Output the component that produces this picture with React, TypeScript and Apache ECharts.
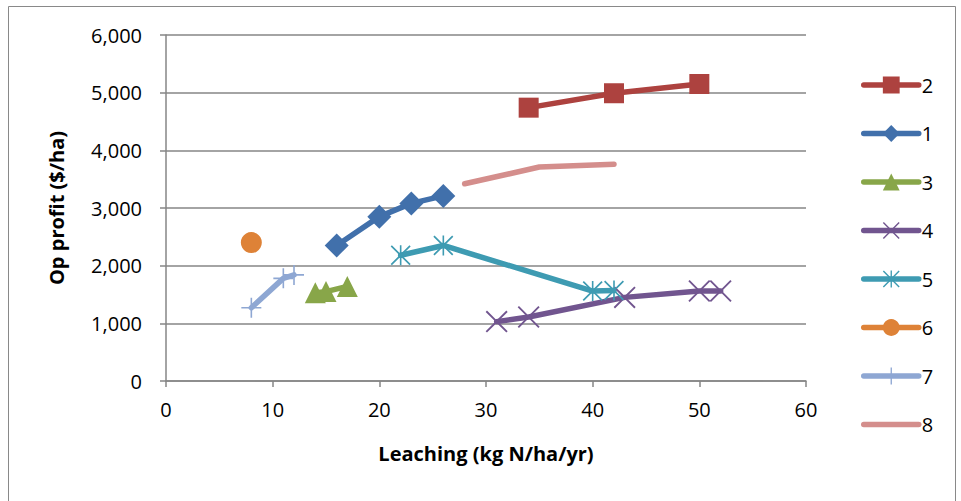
import React, { useEffect, useRef } from "react";
import * as echarts from "echarts";

const xTicks = [0, 10, 20, 30, 40, 50, 60];
const yTicks = [0, 1000, 2000, 3000, 4000, 5000, 6000];

const s2x = [34, 42, 50];
const s2y = [4740, 4990, 5150];
const s1x = [16, 20, 23, 26];
const s1y = [2350, 2850, 3080, 3210];
const s3x = [14, 15, 17];
const s3y = [1530, 1550, 1640];
const s4x = [31, 34, 43, 50, 52];
const s4y = [1030, 1110, 1450, 1560, 1560];
const s5x = [22, 26, 40, 42];
const s5y = [2180, 2350, 1560, 1570];
const s6x = [8];
const s6y = [2400];
const s7x = [8, 11, 12];
const s7y = [1270, 1780, 1840];
const s8x = [28, 35, 42];
const s8y = [3420, 3710, 3760];

const legendNames = ["2", "1", "3", "4", "5", "6", "7", "8"];

const FONT = "Open Sans";

const X_PATH =
  "path://M0,6 L6,0 L50,44 L94,0 L100,6 L56,50 L100,94 L94,100 L50,56 L6,100 L0,94 L44,50 Z";
const STAR_PATH =
  "path://M0,6 L6,0 L50,44 L94,0 L100,6 L56,50 L100,94 L94,100 L50,56 L6,100 L0,94 L44,50 Z M46,0 L54,0 L54,100 L46,100 Z";
const PLUS_PATH =
  "path://M46,0 L54,0 L54,46 L100,46 L100,54 L54,54 L54,100 L46,100 L46,54 L0,54 L0,46 L46,46 Z";

function pairs(xs: number[], ys: number[]) {
  return xs.map((x, i) => [x, ys[i]]);
}

export default function App() {
  const ref = useRef<HTMLDivElement>(null);
  useEffect(() => {
    if (!ref.current) return;
    const chart = echarts.init(ref.current, null, { renderer: "svg" });
    const mk = (
      name: string,
      xs: number[],
      ys: number[],
      color: string,
      symbol: string,
      size: number,
      show = true,
      lw = 5.5
    ) => ({
      name,
      type: "line",
      data: pairs(xs, ys),
      symbol,
      symbolSize: size,
      showSymbol: show,
      lineStyle: { color, width: lw, cap: "round", join: "round" },
      itemStyle: { color, borderWidth: 0 },
      emphasis: { disabled: true },
    });
    chart.setOption({
      animation: false,
      textStyle: { fontFamily: FONT },
      graphic: [
        {
          type: "rect",
          shape: { x: 8.5, y: 6.5, width: 947, height: 500 },
          style: { fill: "none", stroke: "#898989", lineWidth: 1 },
          silent: true,
        },
      ],
      grid: { left: 166, right: 155, top: 35, bottom: 120, containLabel: false },
      xAxis: {
        type: "value",
        min: xTicks[0],
        max: xTicks[xTicks.length - 1],
        interval: 10,
        name: "Leaching (kg N/ha/yr)",
        nameLocation: "middle",
        nameGap: 62,
        nameTextStyle: { fontFamily: FONT, fontSize: 20, fontWeight: "bold", color: "#000" },
        axisLine: { show: true, lineStyle: { color: "#868686", width: 1.5 } },
        axisTick: { show: true, length: 6, lineStyle: { color: "#868686", width: 1.5 } },
        axisLabel: { color: "#000", fontSize: 20, fontFamily: FONT, margin: 18 },
        splitLine: { show: false },
      },
      yAxis: {
        type: "value",
        min: yTicks[0],
        max: yTicks[yTicks.length - 1],
        interval: 1000,
        name: "Op profit ($/ha)",
        nameLocation: "middle",
        nameGap: 100,
        nameRotate: 90,
        nameTextStyle: { fontFamily: FONT, fontSize: 20, fontWeight: "bold", color: "#000" },
        axisLine: { show: true, lineStyle: { color: "#868686", width: 1.5 } },
        axisTick: { show: true, length: 6, lineStyle: { color: "#868686", width: 1.5 } },
        axisLabel: {
          color: "#000",
          fontSize: 20,
          fontFamily: FONT,
          margin: 24,
          formatter: (v: number) => v.toLocaleString("en-US"),
        },
        splitLine: { show: true, lineStyle: { color: "#868686", width: 1.5 } },
      },
      legend: {
        orient: "vertical",
        left: 856,
        top: 70,
        itemWidth: 55,
        itemHeight: 21,
        itemGap: 28.5,
        lineStyle: { width: 5.5, cap: "round" },
        textStyle: { fontFamily: FONT, fontSize: 20, color: "#000", padding: [0, 0, 0, -2] },
        data: legendNames.map((n) =>
          n === "8" ? { name: n, itemStyle: { color: "rgba(0,0,0,0)" } } : { name: n }
        ),
      },
      series: [
        mk("2", s2x, s2y, "#AD423F", "rect", 20),
        mk("1", s1x, s1y, "#4170AB", "diamond", 24),
        mk("3", s3x, s3y, "#88A649", "triangle", 21),
        mk("4", s4x, s4y, "#71558F", X_PATH, 22),
        mk("5", s5x, s5y, "#3E9BB2", STAR_PATH, 20),
        mk("6", s6x, s6y, "#DE8237", "circle", 21),
        mk("7", s7x, s7y, "#8EA7D3", PLUS_PATH, 20),
        mk("8", s8x, s8y, "#D48E8C", "circle", 1, false),
      ],
    });
    return () => chart.dispose();
  }, []);
  return (
    <div
      ref={ref}
      style={{ position: "fixed", left: 0, top: 0, width: 961, height: 501, background: "#fff" }}
    />
  );
}
